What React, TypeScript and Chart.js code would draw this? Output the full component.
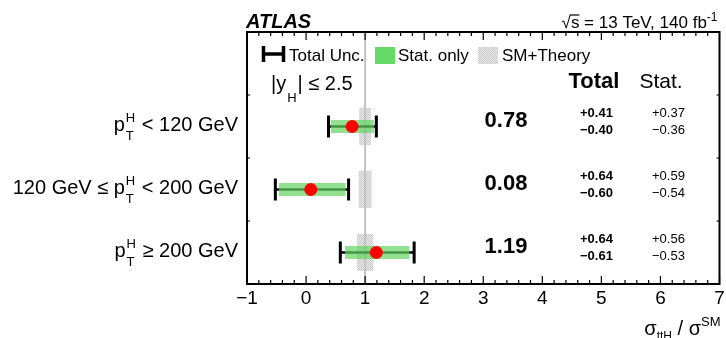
import React, { useEffect, useRef } from 'react';
import { Chart, registerables } from 'chart.js';

Chart.register(...registerables);

const FONT = '"Liberation Sans", Arial, Helvetica, sans-serif';

// Higgs-boson pT bins, drawn top to bottom
const binPrefix = ['', '120 GeV \u2264 ', ''];
const binSuffix = [' < 120 GeV', ' < 200 GeV', ' \u2265 200 GeV'];
const binRow = [1.5, 2.5, 3.5];

// measured ttH cross-section ratios with total and statistical uncertainties
const muValue = [0.78, 0.08, 1.19];
const totalUp = [0.41, 0.64, 0.64];
const totalDown = [0.4, 0.6, 0.61];
const statUp = [0.37, 0.59, 0.56];
const statDown = [0.36, 0.54, 0.53];

// Standard Model expectation and its theory uncertainty
const smValue = [1, 1, 1];
const smUnc = [0.1, 0.11, 0.14];

// horizontal axis
const xMin = -1;
const xMax = 7;
const xTickValues = [-1, 0, 1, 2, 3, 4, 5, 6, 7];
const xMinorStep = 0.2;

const fmtSigned = (v: number) => (v < 0 ? '\u2212' + Math.abs(v) : String(v));

let hatch: CanvasPattern | null = null;
function theoryPattern(ctx: CanvasRenderingContext2D) {
  if (hatch) return hatch;
  const c = document.createElement('canvas');
  c.width = 2;
  c.height = 2;
  const g = c.getContext('2d')!;
  g.fillStyle = '#ebebeb';
  g.fillRect(0, 0, 2, 2);
  g.fillStyle = '#c8c8c8';
  g.fillRect(0, 0, 1, 1);
  g.fillRect(1, 1, 1, 1);
  hatch = ctx.createPattern(c, 'repeat');
  return hatch;
}

function text(ctx: CanvasRenderingContext2D, s: string, x: number, y: number, font: string, align: CanvasTextAlign = 'left') {
  ctx.font = font;
  ctx.textAlign = align;
  ctx.textBaseline = 'alphabetic';
  ctx.fillText(s, x, y);
}

function width(ctx: CanvasRenderingContext2D, s: string, font: string) {
  ctx.font = font;
  return ctx.measureText(s).width;
}

const panelPlugin = {
  id: 'tthPanel',
  beforeDatasetsDraw(chart: any) {
    const { ctx, chartArea: a, scales } = chart;
    const x = scales.x;
    const y = scales.y;
    ctx.save();

    // SM theory bands
    for (let i = 0; i < binRow.length; i++) {
      const yc = y.getPixelForValue(binRow[i]);
      const x0 = x.getPixelForValue(smValue[i] - smUnc[i]);
      const x1 = x.getPixelForValue(smValue[i] + smUnc[i]);
      ctx.fillStyle = theoryPattern(ctx);
      ctx.fillRect(x0, yc - 18.5, x1 - x0, 37);
    }

    // SM reference line
    const xs = x.getPixelForValue(1);
    ctx.strokeStyle = '#c2c2c2';
    ctx.lineWidth = 2;
    ctx.beginPath();
    ctx.moveTo(xs, a.top);
    ctx.lineTo(xs, a.bottom);
    ctx.stroke();

    // total uncertainty bars and statistical bands
    for (let i = 0; i < binRow.length; i++) {
      const yc = y.getPixelForValue(binRow[i]);
      const lo = x.getPixelForValue(muValue[i] - totalDown[i]);
      const hi = x.getPixelForValue(muValue[i] + totalUp[i]);
      ctx.strokeStyle = '#000';
      ctx.lineWidth = 2.5;
      ctx.beginPath();
      ctx.moveTo(lo, yc);
      ctx.lineTo(hi, yc);
      ctx.stroke();
      ctx.lineWidth = 3;
      ctx.beginPath();
      ctx.moveTo(lo, yc - 11);
      ctx.lineTo(lo, yc + 11);
      ctx.moveTo(hi, yc - 11);
      ctx.lineTo(hi, yc + 11);
      ctx.stroke();

      const slo = x.getPixelForValue(muValue[i] - statDown[i]);
      const shi = x.getPixelForValue(muValue[i] + statUp[i]);
      ctx.fillStyle = 'rgba(98, 212, 98, 0.7)';
      ctx.fillRect(slo, yc - 6.5, shi - slo, 13);
    }
    ctx.restore();
  },
  afterDraw(chart: any) {
    const { ctx, chartArea: a, scales } = chart;
    const x = scales.x;
    const y = scales.y;
    ctx.save();
    ctx.fillStyle = '#000';
    ctx.strokeStyle = '#000';

    // frame
    ctx.lineWidth = 2;
    ctx.strokeRect(a.left, a.top, a.right - a.left, a.bottom - a.top);

    // ticks along top and bottom, pointing inwards
    ctx.lineWidth = 1.2;
    ctx.beginPath();
    const nMinor = Math.round((xMax - xMin) / xMinorStep);
    for (let k = 0; k <= nMinor; k++) {
      const v = xMin + k * xMinorStep;
      const major = Math.abs(v - Math.round(v)) < 1e-6;
      const len = major ? 8 : 4;
      const px = x.getPixelForValue(v);
      ctx.moveTo(px, a.bottom);
      ctx.lineTo(px, a.bottom - len);
      ctx.moveTo(px, a.top);
      ctx.lineTo(px, a.top + len);
    }
    // ticks on the sides between bins
    for (let r = 1; r <= 3; r++) {
      const py = y.getPixelForValue(r);
      ctx.moveTo(a.left, py);
      ctx.lineTo(a.left + 3, py);
      ctx.moveTo(a.right, py);
      ctx.lineTo(a.right - 3, py);
    }
    ctx.stroke();

    // x tick labels
    for (const v of xTickValues) {
      text(ctx, fmtSigned(v), x.getPixelForValue(v), a.bottom + 20, `19px ${FONT}`, 'center');
    }

    // x axis title: sigma_ttH / sigma^SM, right aligned
    {
      const big = `20px ${FONT}`;
      const sub = `12px ${FONT}`;
      const sup = `13px ${FONT}`;
      const base = a.bottom + 51;
      const parts = [
        { s: '\u03c3', f: big, dy: 0 },
        { s: 'ttH', f: sub, dy: 5 },
        { s: ' / \u03c3', f: big, dy: 0 },
        { s: 'SM', f: sup, dy: -9 },
      ];
      let total = 0;
      for (const p of parts) total += width(ctx, p.s, p.f);
      let px = a.right + 1 - total;
      for (const p of parts) {
        text(ctx, p.s, px, base + p.dy, p.f);
        px += width(ctx, p.s, p.f);
      }
    }

    // bin labels p_T^H
    {
      const main = `20px ${FONT}`;
      const small = `13px ${FONT}`;
      for (let i = 0; i < binRow.length; i++) {
        const base = y.getPixelForValue(binRow[i]) + 4;
        const head = binPrefix[i] + 'p';
        const wHead = width(ctx, head, main);
        const wScr = Math.max(width(ctx, 'H', small), width(ctx, 'T', small)) + 2;
        const wTail = width(ctx, binSuffix[i], main);
        let px = a.left - 9 - wTail - wScr - wHead;
        text(ctx, head, px, base, main);
        px += wHead;
        text(ctx, 'H', px + 1, base - 9, small);
        text(ctx, 'T', px + 1, base + 9, small);
        px += wScr;
        text(ctx, binSuffix[i], px, base, main);
      }
    }

    // result columns
    const colValue = a.left + 259;
    const colTotal = a.left + 333;
    const colStat = a.left + 405;
    text(ctx, 'Total', a.left + 347, a.top + 56, `bold 22px ${FONT}`, 'center');
    text(ctx, 'Stat.', a.left + 414, a.top + 56, `21px ${FONT}`, 'center');
    for (let i = 0; i < binRow.length; i++) {
      const yc = y.getPixelForValue(binRow[i]);
      text(ctx, muValue[i].toFixed(2), colValue, yc + 0.5, `bold 22px ${FONT}`, 'center');
      text(ctx, '+' + totalUp[i].toFixed(2), colTotal, yc - 10, `bold 13px ${FONT}`);
      text(ctx, '\u2212' + totalDown[i].toFixed(2), colTotal, yc + 7.5, `bold 13px ${FONT}`);
      text(ctx, '+' + statUp[i].toFixed(2), colStat, yc - 10, `13px ${FONT}`);
      text(ctx, '\u2212' + statDown[i].toFixed(2), colStat, yc + 7.5, `13px ${FONT}`);
    }

    // legend
    {
      const lf = `17px ${FONT}`;
      const lx = a.left;
      const ly = a.top;
      ctx.lineWidth = 3.5;
      ctx.beginPath();
      ctx.moveTo(lx + 16.5, ly + 14);
      ctx.lineTo(lx + 16.5, ly + 30);
      ctx.moveTo(lx + 36.5, ly + 14);
      ctx.lineTo(lx + 36.5, ly + 30);
      ctx.moveTo(lx + 16.5, ly + 22);
      ctx.lineTo(lx + 36.5, ly + 22);
      ctx.stroke();
      text(ctx, 'Total Unc.', lx + 42, ly + 29, lf);
      ctx.fillStyle = 'rgb(102, 218, 102)';
      ctx.fillRect(lx + 128, ly + 15, 20, 17);
      ctx.fillStyle = '#000';
      text(ctx, 'Stat. only', lx + 151, ly + 29, lf);
      ctx.fillStyle = theoryPattern(ctx);
      ctx.fillRect(lx + 231, ly + 15, 20, 17);
      ctx.fillStyle = '#000';
      text(ctx, 'SM+Theory', lx + 255, ly + 29, lf);

      // rapidity selection |y_H| <= 2.5
      const f = `20px ${FONT}`;
      let px = lx + 24;
      const base = ly + 58;
      text(ctx, '|y', px, base, f);
      px += width(ctx, '|y', f);
      text(ctx, 'H', px + 1, base + 12, `13px ${FONT}`);
      px += width(ctx, 'H', `13px ${FONT}`) + 2;
      text(ctx, '| \u2264 2.5', px, base, f);
    }

    // header line above the frame
    text(ctx, 'ATLAS', a.left - 1, 28, `italic bold 20px ${FONT}`);
    {
      const f = `17px ${FONT}`;
      const fs = `12px ${FONT}`;
      const wRoot = width(ctx, '\u221a', f);
      const wS = width(ctx, 's', f);
      const rest = ' = 13 TeV, 140 fb';
      const wRest = width(ctx, rest, f);
      const wSup = width(ctx, '-1', fs);
      let px = a.right - 2 - wSup - wRest - wS - wRoot;
      text(ctx, '\u221a', px, 28, f);
      px += wRoot;
      text(ctx, 's', px, 28, f);
      ctx.lineWidth = 1.2;
      ctx.beginPath();
      ctx.moveTo(px - 1, 15);
      ctx.lineTo(px + wS, 15);
      ctx.stroke();
      px += wS;
      text(ctx, rest, px, 28, f);
      px += wRest;
      text(ctx, '-1', px, 21, fs);
    }

    ctx.restore();
  },
};

export default function App() {
  const canvasRef = useRef<HTMLCanvasElement | null>(null);

  useEffect(() => {
    const canvas = canvasRef.current;
    if (!canvas) return;
    const chart = new Chart(canvas, {
      type: 'scatter',
      data: {
        datasets: [
          {
            data: muValue.map((v, i) => ({ x: v, y: binRow[i] })),
            pointRadius: 6.5,
            pointHoverRadius: 6.5,
            pointBackgroundColor: '#ff0000',
            pointBorderWidth: 0,
            pointBorderColor: '#ff0000',
          },
        ],
      },
      options: {
        responsive: false,
        animation: false,
        devicePixelRatio: 1,
        events: [],
        layout: { padding: { left: 247, right: 4, top: 32, bottom: 54 } },
        scales: {
          x: { type: 'linear', min: xMin, max: xMax, display: false },
          y: { type: 'linear', min: 0, max: 4, reverse: true, display: false },
        },
        plugins: {
          legend: { display: false },
          tooltip: { enabled: false },
        },
      },
      plugins: [panelPlugin],
    });
    return () => chart.destroy();
  }, []);

  return (
    <div style={{ position: 'absolute', left: 0, top: 0, width: 726, height: 338, background: '#fff' }}>
      <canvas ref={canvasRef} width={726} height={338} style={{ display: 'block' }} />
    </div>
  );
}
